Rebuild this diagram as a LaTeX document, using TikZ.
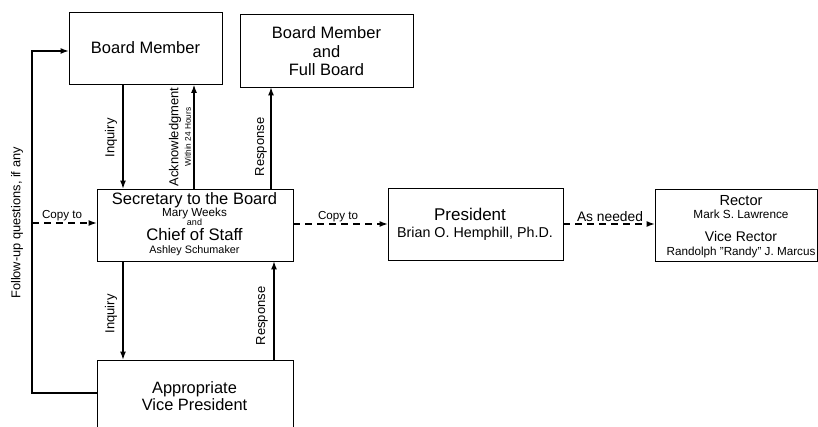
\documentclass[tikz,border=0pt]{standalone}
\usepackage{fontspec}
\setmainfont{Liberation Sans}
\usetikzlibrary{arrows.meta}
\begin{document}
\begin{tikzpicture}[x=1pt,y=-1pt,
  box/.style={draw, line width=0.9pt, inner sep=0pt},
  arr/.style={line width=1.1pt, -{Latex[length=8pt,width=6pt]}},
  darr/.style={line width=1.1pt, dash pattern=on 7pt off 5pt, -{Latex[length=8pt,width=6pt]}},
  fsz/.style={font=\fontsize{#1}{#1}\selectfont},
  tb/.style={inner sep=0pt, anchor=base},
  tr/.style={inner sep=0pt, anchor=center, rotate=90},
]
\useasboundingbox (0,0) rectangle (818,427);

% boxes
\node[box, minimum width=153pt, minimum height=72pt] (bm) at (145.5,48.5) {};
\node[box, minimum width=173pt, minimum height=73pt] (fb) at (326.5,50.5) {};
\node[box, minimum width=196pt, minimum height=72pt] (sec) at (195,225) {};
\node[box, minimum width=196pt, minimum height=80pt] (vp) at (195,400) {};
\node[box, minimum width=175pt, minimum height=72pt] (pres) at (475.5,224) {};
\node[box, minimum width=162pt, minimum height=72pt] (rec) at (736,225) {};

% texts
\node[tb, fsz=16.5] (bmt) at (145.5,54) {Board Member};
\node[tb, fsz=16.5] (fbt1) at (326.5,39) {Board Member};
\node[tb, fsz=16.5] (fbt2) at (326.5,58) {and};
\node[tb, fsz=16.5] (fbt3) at (326.5,76) {Full Board};

\node[tb, fsz=16.5] (st1) at (194.5,205) {Secretary to the Board};
\node[tb, fsz=11.7] (st2) at (194.5,217) {Mary Weeks};
\node[tb, fsz=9] (st3) at (194.5,226) {and};
\node[tb, fsz=16.7] (st4) at (194.5,241) {Chief of Staff};
\node[tb, fsz=10.8] (st5) at (194.5,254) {Ashley Schumaker};

\node[tb, fsz=17] (pt1) at (470,221) {President};
\node[tb, fsz=14.3] (pt2) at (475,238) {Brian O. Hemphill, Ph.D.};

\node[tb, fsz=14.6] (rt1) at (741,206) {Rector};
\node[tb, fsz=11.8] (rt2) at (741,219) {Mark S. Lawrence};
\node[tb, fsz=14] (rt3) at (741,242) {Vice Rector};
\node[tb, fsz=11.7] (rt4) at (741,256) {Randolph "Randy" J. Marcus};

\node[tb, fsz=16.4] (vt1) at (194.5,393) {Appropriate};
\node[tb, fsz=16.4] (vt2) at (194.5,410) {Vice President};

% helper coordinates
\coordinate (xa) at (123,0);
\coordinate (xb) at (194,0);
\coordinate (xc) at (271,0);
\coordinate (xd) at (274,0);
\coordinate (fx) at (32,51);
\coordinate (fy) at (0,393);
\coordinate (cy) at (0,223);
\coordinate (cy2) at (0,224);

% vertical connectors
\draw[arr] (bm.south -| xa) -- (sec.north -| xa);
\draw[arr] (sec.north -| xb) -- (bm.south -| xb);
\draw[arr] (sec.north -| xc) -- (fb.south -| xc);
\draw[arr] (sec.south -| xa) -- (vp.north -| xa);
\draw[arr] (vp.north -| xd) -- (sec.south -| xd);

% follow-up loop
\draw[arr] (vp.west |- fy) -| (fx) -- (bm.west |- fx);

% dashed connectors
\draw[darr] (fx |- cy) -- (sec.west |- cy);
\draw[darr] (sec.east |- cy2) -- (pres.west |- cy2);
\draw[darr] (pres.east |- cy2) -- (rec.west |- cy2);

% connector labels
\node[tr, fsz=13] (l1) at (111,138) {Inquiry};
\node[tr, fsz=13] (l2) at (175,137) {Acknowledgment};
\node[tr, fsz=8.3] (l3) at (188,137) {Within 24 Hours};
\node[tr, fsz=13] (l4) at (261,147) {Response};
\node[tr, fsz=13] (l5) at (111,314) {Inquiry};
\node[tr, fsz=13] (l6) at (262,316) {Response};
\node[tr, fsz=12.8] (l7) at (17,223) {Follow-up questions, if any};
\node[tb, fsz=11.6] (l8) at (62,219) {Copy to};
\node[tb, fsz=11.6] (l9) at (338,220) {Copy to};
\node[tb, fsz=13.8] (l10) at (610,222) {As needed};
\end{tikzpicture}
\end{document}
